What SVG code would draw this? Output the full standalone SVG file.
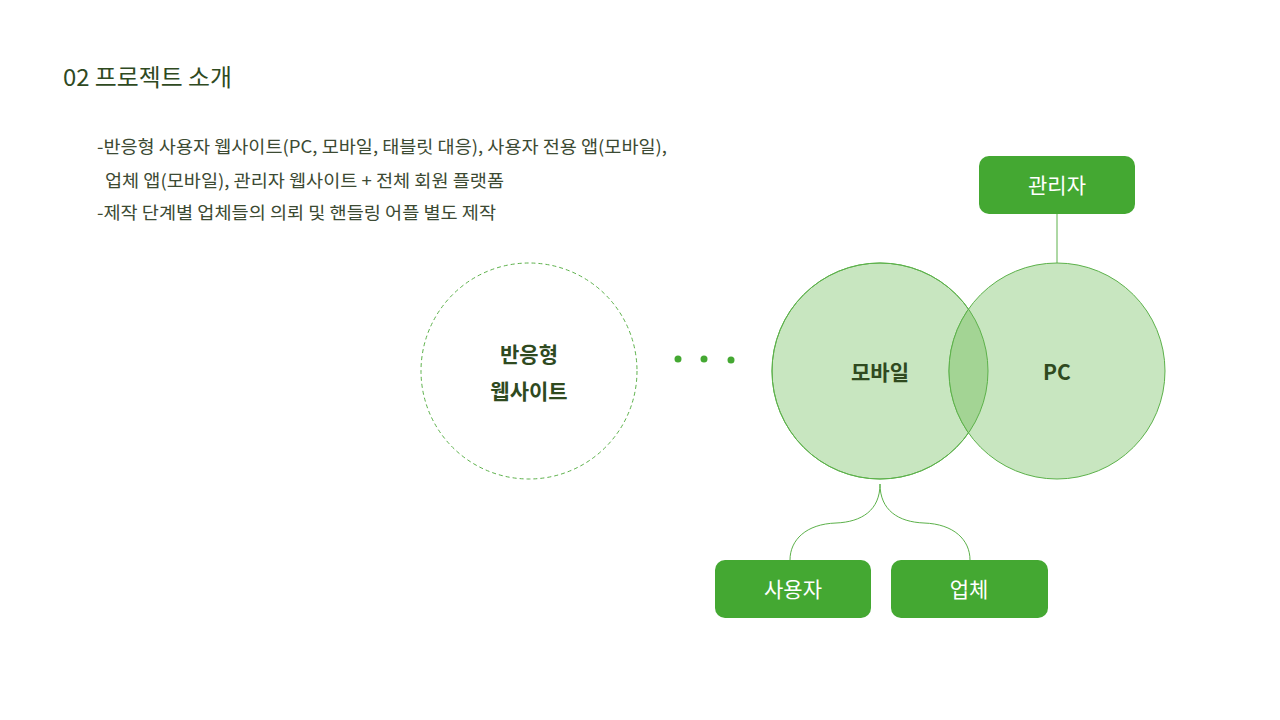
<svg xmlns="http://www.w3.org/2000/svg" width="1280" height="720" viewBox="0 0 1280 720">
<style>
.title{font-family:"Noto Sans CJK KR","Noto Sans",sans-serif;font-size:23.5px;fill:#2f4a1f;}
.body{font-family:"Noto Sans CJK KR","Noto Sans",sans-serif;font-size:17.5px;fill:#3c4a33;}
.bold{font-family:"Noto Sans CJK KR","Noto Sans",sans-serif;font-size:21px;font-weight:700;fill:#2f4a1f;text-anchor:middle;}
.box{fill:#44a832;}
.boxt{font-family:"Noto Sans CJK KR","Noto Sans",sans-serif;font-size:21px;fill:#ffffff;text-anchor:middle;}
.venn{fill:#c8e6c0;stroke:#5cb14a;stroke-width:1;}
.conn{fill:none;stroke:#5cb14a;stroke-width:1;}
</style>
<defs>
<clipPath id="clipMobile"><circle cx="880" cy="371" r="108"/></clipPath>
</defs>
<rect width="1280" height="720" fill="#ffffff"/>
<text class="title" x="63" y="86" textLength="169" lengthAdjust="spacingAndGlyphs">02 프로젝트 소개</text>
<text class="body" x="97" y="153" textLength="570" lengthAdjust="spacingAndGlyphs">-반응형 사용자 웹사이트(PC, 모바일, 태블릿 대응), 사용자 전용 앱(모바일),</text>
<text class="body" x="105" y="187" textLength="399" lengthAdjust="spacingAndGlyphs">업체 앱(모바일), 관리자 웹사이트 + 전체 회원 플랫폼</text>
<text class="body" x="97" y="219" textLength="399" lengthAdjust="spacingAndGlyphs">-제작 단계별 업체들의 의뢰 및 핸들링 어플 별도 제작</text>

<g id="connectors">
<line class="conn" x1="1057" y1="214" x2="1057" y2="263"/>
<path class="conn" d="M880,484 C880,510 862,522 836,523 C806,524 790,540 790,560"/>
<path class="conn" d="M880,484 C880,510 898,522 924,523 C954,524 970,540 970,560"/>
</g>

<g id="node-responsive">
<circle cx="529" cy="371" r="108" fill="none" stroke="#5cb14a" stroke-width="1" stroke-dasharray="4,3"/>
<text class="bold" x="529" y="362">반응형</text>
<text class="bold" x="529" y="399">웹사이트</text>
</g>

<g id="dots" fill="#44a832">
<circle cx="678" cy="359" r="3.5"/>
<circle cx="704" cy="359" r="3.5"/>
<circle cx="731" cy="360" r="3.5"/>
</g>

<g id="node-mobile">
<circle class="venn" cx="880" cy="371" r="108"/>
</g>
<g id="node-pc">
<circle class="venn" cx="1057" cy="371" r="108"/>
<circle cx="1057" cy="371" r="108" fill="#a3d494" stroke="#5cb14a" stroke-width="1" clip-path="url(#clipMobile)"/>
<circle cx="880" cy="371" r="108" fill="none" stroke="#5cb14a" stroke-width="1"/>
</g>
<text class="bold" x="880" y="380">모바일</text>
<text class="bold" x="1057" y="380">PC</text>

<g id="node-admin">
<rect class="box" x="979" y="156" width="156" height="58" rx="10"/>
<text class="boxt" x="1057" y="193">관리자</text>
</g>
<g id="node-user">
<rect class="box" x="715" y="560" width="156" height="58" rx="10"/>
<text class="boxt" x="793" y="597">사용자</text>
</g>
<g id="node-company">
<rect class="box" x="891" y="560" width="157" height="58" rx="10"/>
<text class="boxt" x="969" y="597">업체</text>
</g>
</svg>
